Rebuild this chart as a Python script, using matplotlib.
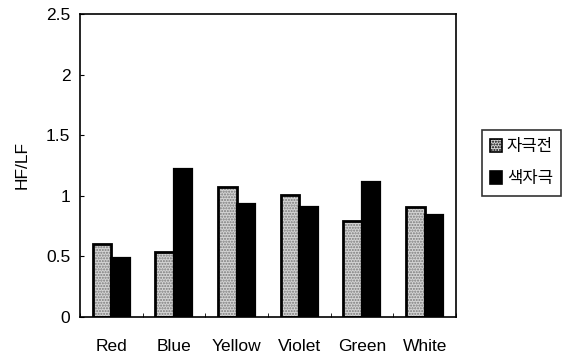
import matplotlib
matplotlib.use("Agg")
import matplotlib.pyplot as plt
from matplotlib.patches import Patch
import numpy as np

plt.rcParams['font.family'] = ['Liberation Sans', 'Noto Sans CJK KR', 'DejaVu Sans']
plt.rcParams['hatch.linewidth'] = 1.0

categories = ["Red", "Blue", "Yellow", "Violet", "Green", "White"]
before = [0.60, 0.54, 1.075, 1.01, 0.79, 0.905]
color_stim = [0.49, 1.22, 0.93, 0.91, 1.11, 0.84]
series_names = ["자극전", "색자극"]
yticks = [0, 0.5, 1, 1.5, 2, 2.5]
ytick_labels = ["0", "0.5", "1", "1.5", "2", "2.5"]

fig = plt.figure(figsize=(5.66, 3.57), dpi=100)
ax = fig.add_axes([0.1413, 0.112, 0.6643, 0.849])

x = np.arange(len(categories))
w = 0.295
gray_face = "#d4d4d4"
dot_color = "#7a7a7a"

# stippled fill for the first series, then a black outline on top
ax.bar(x - w / 2, before, width=w, color=gray_face, edgecolor=dot_color,
       linewidth=0, hatch="......")
ax.bar(x - w / 2, before, width=w, fill=False, edgecolor="black",
       linewidth=2.0)
ax.bar(x + w / 2, color_stim, width=w, color="black", edgecolor="black",
       linewidth=1.6)

ax.set_xlim(-0.5, len(categories) - 0.5)
ax.set_ylim(0, 2.5)
ax.set_yticks(yticks)
ax.set_yticklabels(ytick_labels)
ax.set_xticks(x)
ax.set_xticklabels(categories)
ax.tick_params(axis="x", length=0, labelsize=12.5, pad=16)
ax.tick_params(axis="y", direction="in", length=3, labelsize=12.5, pad=7)
ax.set_xticks(np.arange(len(categories) + 1) - 0.5, minor=True)
ax.tick_params(axis="x", which="minor", direction="in", length=3)
for s in ax.spines.values():
    s.set_linewidth(1.2)

ax.set_ylabel("HF/LF", fontsize=12.5, labelpad=12)

# legend proxies
handles = [
    Patch(facecolor=gray_face, edgecolor="black", linewidth=1.2, hatch="......"),
    Patch(facecolor="black", edgecolor="black", linewidth=1.2),
]
leg = fig.legend(handles, series_names, loc="upper left",
                 bbox_to_anchor=(0.851, 0.636),
                 frameon=True, fancybox=False, edgecolor="black",
                 fontsize=12, handlelength=0.7, handleheight=0.8,
                 handletextpad=0.3, labelspacing=0.9, borderpad=0.5,
                 borderaxespad=0)
leg.get_frame().set_linewidth(1.2)
for t in leg.get_texts():
    t.set_fontfamily(['Noto Sans CJK KR', 'DejaVu Sans'])
    t.set_fontweight("medium")

fig.savefig("out.png", dpi=100)
